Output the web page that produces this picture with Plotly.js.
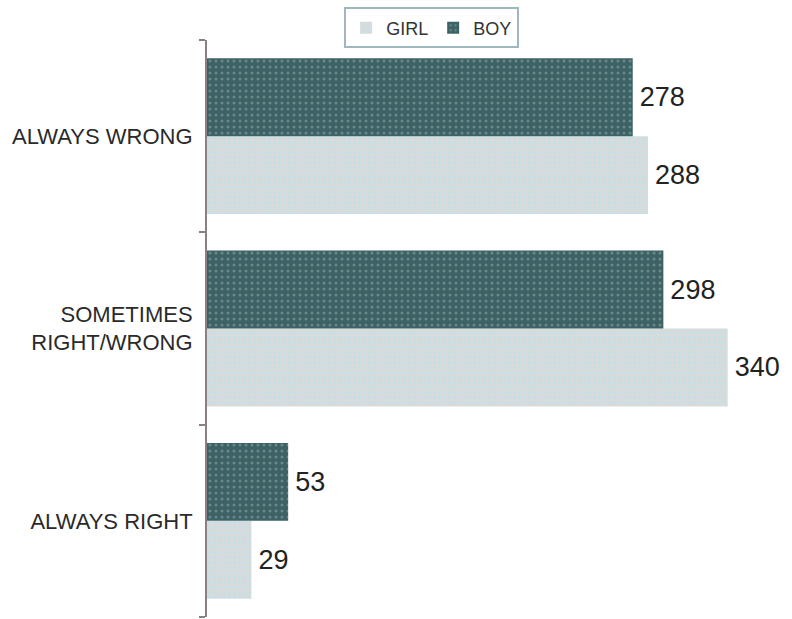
<!DOCTYPE html>
<html>
<head>
<meta charset="utf-8">
<script src="https://cdn.plot.ly/plotly-3.0.1.min.js"></script>
<style>html,body{margin:0;padding:0;background:#fff;}#chart{width:792px;height:619px;}</style>
</head>
<body>
<div id="chart"></div>
<script>
// Categories listed bottom to top
var categories = ['ALWAYS RIGHT', 'SOMETIMES<br>RIGHT/WRONG', 'ALWAYS WRONG'];
var girlValues = [29, 340, 288];
var boyValues = [53, 298, 278];
var seriesNames = ['GIRL', 'BOY'];

var girl = {
  type: 'bar', orientation: 'h', name: seriesNames[0],
  y: categories, x: girlValues,
  text: girlValues.map(String), textposition: 'outside', cliponaxis: false,
  textfont: {family: 'Liberation Sans, Arial, sans-serif', size: 27, color: '#222'},
  marker: {color: '#d9dbdb', line: {width: 0},
    pattern: {shape: '.', fgcolor: '#c2e0ea', bgcolor: '#d9dbdb', size: 5, solidity: 0.3}},
  hoverinfo: 'skip'
};
var boy = {
  type: 'bar', orientation: 'h', name: seriesNames[1],
  y: categories, x: boyValues,
  text: boyValues.map(String), textposition: 'outside', cliponaxis: false,
  textfont: {family: 'Liberation Sans, Arial, sans-serif', size: 27, color: '#222'},
  marker: {color: '#3c6265', line: {width: 0},
    pattern: {shape: '.', fgcolor: '#6b8788', bgcolor: '#3c6265', size: 6, solidity: 0.2}},
  hoverinfo: 'skip'
};

var layout = {
  width: 792, height: 619,
  margin: {l: 207, r: 0, t: 40, b: 2, autoexpand: false},
  paper_bgcolor: '#fff', plot_bgcolor: '#fff',
  font: {family: 'Liberation Sans, Arial, sans-serif', color: '#222'},
  barmode: 'group', bargap: 0.19, bargroupgap: 0,
  showlegend: true,
  legend: {
    orientation: 'h', xref: 'container', yref: 'container',
    x: 0.545, xanchor: 'center', y: 0.988, yanchor: 'top',
    bordercolor: '#9fb8c0', borderwidth: 2, bgcolor: '#fff',
    font: {size: 18, color: '#333'}, itemwidth: 30, traceorder: 'normal'
  },
  xaxis: {range: [0, 382], showticklabels: false, showgrid: false, zeroline: false, showline: false, ticks: ''},
  yaxis: {
    type: 'category', showgrid: false, zeroline: false, automargin: false,
    showline: true, linecolor: '#8a8080', linewidth: 2,
    ticks: 'outside', tickson: 'boundaries', ticklen: 6, tickcolor: '#8a8080', tickwidth: 2,
    ticklabelstandoff: 8,
    tickfont: {size: 22, color: '#2a2a2a'}
  }
};

Plotly.newPlot('chart', [girl, boy], layout, {displayModeBar: false, staticPlot: true}).then(function () {
  document.querySelectorAll('.bartext text, text.bartext').forEach(function (t) {
    var x = parseFloat(t.getAttribute('x') || 0);
    t.setAttribute('x', x + 4);
  });
});
</script>
</body>
</html>
